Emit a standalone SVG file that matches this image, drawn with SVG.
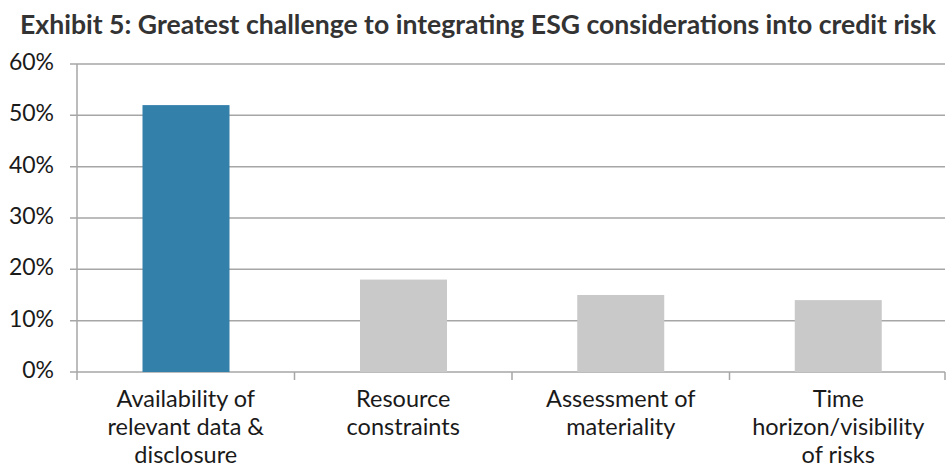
<svg xmlns="http://www.w3.org/2000/svg" width="947" height="465" viewBox="0 0 947 465">
<style>
.title{font-family:Lato,"Liberation Sans",sans-serif;font-weight:bold;font-size:26.5px;fill:#333333}
.ylab{font-family:Lato,"Liberation Sans",sans-serif;font-size:23px;fill:#1a1a1a;text-anchor:end}
.xlab{font-family:Lato,"Liberation Sans",sans-serif;font-size:23.5px;fill:#1a1a1a;text-anchor:middle}
.grid{stroke:#a6a6a6;stroke-width:1.5;fill:none}
.bar-hl{fill:#3380aa}
.bar{fill:#c9c9c9}
</style>
<rect width="947" height="465" fill="#ffffff"/>
<text id="title" class="title" x="20" y="33.5" textLength="916" lengthAdjust="spacingAndGlyphs">Exhibit 5: Greatest challenge to integrating ESG considerations into credit risk</text>
<g id="gridlines">
<path class="grid" d="M70 64H945M70 115.3H945M70 166.7H945M70 218H945M70 269.3H945M70 320.7H945M70 372H945"/>
<path class="grid" d="M77 64V380M294.5 372V380M512 372V380M729.5 372V380M945 372V380"/>
</g>
<g id="yaxis-labels">
<text class="ylab" x="54" y="70">60%</text>
<text class="ylab" x="54" y="121.3">50%</text>
<text class="ylab" x="54" y="172.7">40%</text>
<text class="ylab" x="54" y="224">30%</text>
<text class="ylab" x="54" y="275.3">20%</text>
<text class="ylab" x="54" y="326.7">10%</text>
<text class="ylab" x="54" y="378">0%</text>
</g>
<g id="bar-availability">
<rect class="bar-hl" x="142.5" y="105.1" width="87" height="266.9"/>
<text class="xlab" x="185.75" y="407">Availability of</text>
<text class="xlab" x="185.75" y="435">relevant data &amp;</text>
<text class="xlab" x="185.75" y="463">disclosure</text>
</g>
<g id="bar-resource">
<rect class="bar" x="360" y="279.6" width="87" height="92.4"/>
<text class="xlab" x="403.25" y="407">Resource</text>
<text class="xlab" x="403.25" y="435">constraints</text>
</g>
<g id="bar-assessment">
<rect class="bar" x="577.25" y="295" width="87" height="77"/>
<text class="xlab" x="620.75" y="407">Assessment of</text>
<text class="xlab" x="620.75" y="435">materiality</text>
</g>
<g id="bar-time">
<rect class="bar" x="794.75" y="300.1" width="87" height="71.9"/>
<text class="xlab" x="838.25" y="407">Time</text>
<text class="xlab" x="838.25" y="435">horizon/visibility</text>
<text class="xlab" x="838.25" y="463">of risks</text>
</g>
</svg>
